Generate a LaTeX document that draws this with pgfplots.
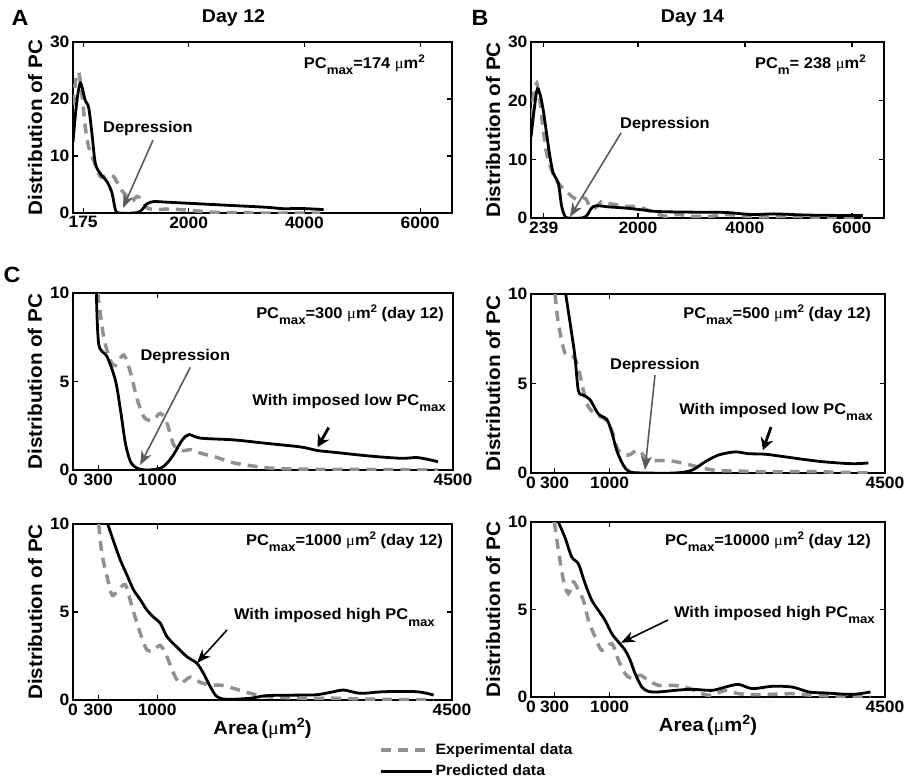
\documentclass[border=0pt]{standalone}
\usepackage{fontspec}
\setmainfont{Liberation Sans}[FakeStretch=1.06]
\newfontfamily\mufont{Liberation Serif}[FakeStretch=1.06]
\usepackage{pgfplots}
\pgfplotsset{compat=1.18}
\usetikzlibrary{arrows.meta}

\definecolor{expgray}{RGB}{145,145,145}
\definecolor{arrgray}{RGB}{90,90,90}
\newcommand{\fs}[1]{\fontsize{#1}{#1}\selectfont}
\newcommand{\um}{{\mufont\mdseries μ}m}
\newcommand{\sub}[1]{\raisebox{-6.5pt}{\fs{12.5}#1}}
\newcommand{\sq}{\raisebox{5.5pt}{\fs{11}2}}
\newcommand{\sqL}{\raisebox{7pt}{\fs{13.5}2}}

\pgfplotsset{
  panel/.style={
    scale only axis, clip mode=individual,
    axis line style={line width=1.5pt},
    every tick/.style={black, line width=1.2pt},
    major tick length=5pt, tick align=inside, tick pos=both,
    minor tick num=0,
    /pgf/number format/assume math mode=true,
    ticklabel style={font=\fs{16.5}\bfseries},
    ylabel={Distribution of PC},
    every axis y label/.style={at={(axis description cs:-0.1,0.5)}, rotate=90, anchor=center, font=\fs{19.5}\bfseries},
    every axis x label/.style={at={(axis description cs:0.5,0)}, anchor=center, yshift=-28pt, font=\fs{19}\bfseries},
    legend image code/.code={\draw[#1] (0pt,0pt) -- (51pt,0pt);},
  },
  exp/.style={expgray, line width=3.5pt, dash pattern=on 10pt off 7pt, smooth},
  pred/.style={black, line width=2.8pt, smooth},
}
\tikzset{
  note/.style={font=\fs{15.5}\bfseries, inner sep=0pt},
  garrow/.style={draw=arrgray, line width=1.6pt, -{Stealth[length=14pt,width=11pt]}},
  barrow/.style={draw=black, line width=2.8pt, -{Stealth[length=12pt,width=13pt]}},
  harrow/.style={draw=black, line width=1.6pt, -{Stealth[length=14pt,width=11pt]}},
}

\begin{document}
\begin{tikzpicture}
\useasboundingbox (0pt,0pt) rectangle (918pt,-779pt);

% ---------- A: day 12
\begin{axis}[panel, at={(73pt,-213pt)}, anchor=south west, width=379pt, height=171pt,
  xmin=0, xmax=6550, ymin=0, ymax=30,
  xtick={175,2000,4000,6000}, xticklabels={175,2000,4000,6000},
  ytick={0,10,20,30}]
\addplot[exp] coordinates {
(0,19) (50,23.5) (100,24.6) (155,20.8) (213,15) (271,11.6) (357,9.2) (472,6.4)
(588,6.6) (703,6.4) (818,4.3) (933,2.9) (1020,2.0) (1106,2.9) (1192,2.3) (1279,0.9)
(1452,0.6) (1625,0.7) (1855,0.6) (2085,0.4) (2489,0.1) (3065,0) (4275,0)};
\addplot[pred] coordinates {
(0,12.5) (60,19) (127,22.8) (213,19.7) (271,18.5) (328,13.9) (386,8.7) (472,6.9)
(588,5.5) (674,3.5) (732,0.6) (789,0) (1048,0) (1164,0.3) (1279,1.6) (1394,2.0)
(1625,1.9) (2201,1.6) (2777,1.3) (3353,1.0) (3641,0.75) (3929,0.8) (4332,0.6)};
\node[note, anchor=east] at (axis cs:6083,26) {PC\sub{max}=174 \um\sq};
\node[note] at (axis cs:1296,14.9) {Depression};
\draw[garrow] (axis cs:1383,12.8) -- (axis cs:864,0.9);
\node[font=\fs{18.5}\bfseries, xshift=-29pt, yshift=24pt] at (axis description cs:0.5,1) {Day 12};
\node[font=\fs{22}\bfseries, xshift=-53pt, yshift=24pt] at (axis description cs:0,1) {A};
\end{axis}

% ---------- B: day 14
\begin{axis}[panel, at={(531pt,-218pt)}, anchor=south west, width=353pt, height=176pt,
  xmin=0, xmax=6600, ymin=0, ymax=30,
  xtick={239,2000,4000,6000}, xticklabels={239,2000,4000,6000},
  ytick={0,10,20,30},
  every axis y label/.append style={at={(axis description cs:-0.107,0.5)}}]
\addplot[exp] coordinates {
(0,17) (50,21) (106,23) (168,19.9) (230,14.9) (293,11.0) (386,8.1) (511,5.9)
(635,4.8) (760,3.7) (884,3.1) (1009,3.4) (1102,2.0) (1196,1.7) (1320,2.8) (1444,2.5)
(1756,2.0) (2005,1.9) (2254,1.1) (2503,0.3) (2752,0.6) (3001,0.3) (3375,0.3)
(3624,0.6) (4247,0.2) (4870,0.3) (5492,0.1) (6207,0.1)};
\addplot[pred] coordinates {
(0,13.8) (106,21.6) (168,21.1) (230,18.3) (293,14.3) (355,10.4) (417,7.6) (511,5.9)
(573,2.0) (635,0.3) (697,0) (946,0) (1040,0.4) (1133,1.7) (1227,2.1) (1444,1.9)
(1756,1.7) (2067,1.4) (2378,1.1) (3001,1.0) (3624,0.95) (4122,0.6) (4557,0.7)
(5180,0.5) (6207,0.4)};
\node[note, anchor=east] at (axis cs:6263,26.1) {PC\sub{m}= 238 \um\sq};
\node[note] at (axis cs:2505,16) {Depression};
\draw[garrow] (axis cs:1683,14.5) -- (axis cs:729,0.2);
\node[font=\fs{18.5}\bfseries, xshift=-15pt, yshift=24pt] at (axis description cs:0.5,1) {Day 14};
\node[font=\fs{22}\bfseries, xshift=-51pt, yshift=24pt] at (axis description cs:0,1) {B};
\end{axis}

% ---------- C1: PCmax = 300
\begin{axis}[panel, at={(73pt,-470pt)}, anchor=south west, width=380pt, height=177pt,
  xmin=0, xmax=4500, ymin=0, ymax=10,
  xtick={0,300,1000,4500}, xticklabels={0,300,1000,4500},
  ytick={0,5,10}]
\addplot[exp] coordinates {
(293,10) (364,7.5) (443,6.2) (503,5.9) (601,6.5) (681,5.5) (760,4.0) (839,3.0)
(938,2.8) (1037,3.2) (1116,2.6) (1195,1.4) (1294,1.1) (1393,1.15) (1512,0.95)
(1710,0.7) (1907,0.4) (2303,0.12) (2699,0.05) (3490,0.03) (4321,0)};
\addplot[pred] coordinates {
(277,10) (305,7.1) (404,6.4) (503,5.05) (562,3.4) (621,1.5) (681,0.47) (760,0.1)
(879,0) (1037,0.1) (1116,0.4) (1195,0.9) (1294,1.7) (1373,2.0) (1512,1.8) (1907,1.7)
(2303,1.5) (2699,1.3) (2897,1.1) (3095,1.0) (3490,0.8) (3886,0.66) (4084,0.7) (4321,0.47)};
\node[note, anchor=east] at (axis cs:4393,8.76) {PC\sub{max}=300 \um\sq{} (day 12)};
\node[note] at (axis cs:1330,6.4) {Depression};
\draw[garrow] (axis cs:1389,5.8) -- (axis cs:795,0.28);
\node[note, anchor=east] at (axis cs:4417,3.8) {With imposed low PC\sub{max}};
\draw[barrow] (axis cs:3028,2.4) -- (axis cs:2897,1.3);
\node[font=\fs{22}\bfseries, xshift=-61pt, yshift=18pt] at (axis description cs:0,1) {C};
\end{axis}

% ---------- C2: PCmax = 500
\begin{axis}[panel, at={(531pt,-473pt)}, anchor=south west, width=354pt, height=179pt,
  xmin=0, xmax=4500, ymin=0, ymax=10,
  xtick={0,300,1000,4500}, xticklabels={0,300,1000,4500},
  ytick={0,5,10},
  every axis y label/.append style={at={(axis description cs:-0.107,0.5)}}]
\addplot[exp] coordinates {
(305,10) (347,8.4) (432,6.7) (538,6.5) (602,5.85) (708,3.9) (814,3.3) (941,3.0)
(1025,2.4) (1110,1.27) (1237,1.0) (1364,1.27) (1492,0.7) (1619,0.7) (1788,0.67)
(1958,0.52) (2127,0.34) (2339,0.15) (2678,0.1) (3102,0.06) (3525,0.08) (4288,0)};
\addplot[pred] coordinates {
(441,10) (517,7.8) (559,6.5) (602,4.6) (665,4.35) (750,4.1) (856,3.3) (962,3.0)
(1025,2.3) (1089,1.27) (1174,0.43) (1258,0.06) (1449,0) (1831,0) (2042,0.15)
(2212,0.62) (2381,1.0) (2593,1.18) (2763,1.08) (2975,1.05) (3186,0.93) (3483,0.75)
(3737,0.62) (4076,0.52) (4288,0.56)};
\node[note, anchor=east] at (axis cs:4322,8.83) {PC\sub{max}=500 \um\sq{} (day 12)};
\node[note] at (axis cs:1576,5.98) {Depression};
\draw[garrow] (axis cs:1576,5.47) -- (axis cs:1449,0.17);
\node[note, anchor=east] at (axis cs:4347,3.4) {With imposed low PC\sub{max}};
\draw[barrow] (axis cs:3051,2.57) -- (axis cs:2949,1.28);
\end{axis}

% ---------- C3: PCmax = 1000
\begin{axis}[panel, at={(73pt,-700pt)}, anchor=south west, width=379pt, height=176pt,
  xmin=0, xmax=4500, ymin=0, ymax=10,
  xtick={0,300,1000,4500}, xticklabels={0,300,1000,4500},
  ytick={0,5,10},
  xlabel={Area\,(\um\sqL)},
  legend style={draw=none, fill=none, font=\fs{15}\bfseries,
    at={(axis description cs:0.807,-0.344)}, anchor=west, inner sep=0pt,
    row sep=5pt, legend cell align=left}]
\addplot[exp] coordinates {
(305,10) (344,8.3) (404,7.0) (463,5.97) (522,6.15) (621,6.55) (700,5.3) (799,3.79)
(879,2.84) (958,2.84) (1037,3.1) (1116,2.46) (1195,1.5) (1274,0.95) (1393,1.3)
(1512,1.0) (1630,0.85) (1749,0.85) (1907,0.66) (2105,0.38) (2303,0.19) (2699,0.1)
(3095,0.1) (3490,0.05) (4282,0)};
\addlegendentry{Experimental data}
\addplot[pred] coordinates {
(412,10) (483,9.0) (562,7.95) (641,7.1) (720,6.25) (799,5.7) (879,5.1) (958,4.7)
(1037,4.36) (1116,3.6) (1235,3.0) (1353,2.46) (1472,2.08) (1551,1.5) (1630,0.76)
(1709,0.19) (1828,0.04) (2105,0.1) (2303,0.25) (2699,0.28) (2897,0.3) (3095,0.47)
(3213,0.57) (3411,0.38) (3688,0.47) (4084,0.47) (4282,0.28)};
\addlegendentry{Predicted data}
\node[note, anchor=east] at (axis cs:4393,8.98) {PC\sub{max}=1000 \um\sq{} (day 12)};
\node[note, anchor=east] at (axis cs:4298,4.7) {With imposed high PC\sub{max}};
\draw[harrow] (axis cs:1829,3.98) -- (axis cs:1472,2.1);
\end{axis}

% ---------- C4: PCmax = 10000
\begin{axis}[panel, at={(531pt,-697pt)}, anchor=south west, width=354pt, height=175pt,
  xmin=0, xmax=4500, ymin=0, ymax=10,
  xtick={0,300,1000,4500}, xticklabels={0,300,1000,4500},
  ytick={0,5,10},
  xlabel={Area\,(\um\sqL)},
  every axis y label/.append style={at={(axis description cs:-0.107,0.5)}}]
\addplot[exp] coordinates {
(297,10) (348,8.4) (412,6.67) (475,5.9) (539,6.57) (603,6.1) (666,5.52) (730,4.38)
(815,3.43) (900,2.67) (1027,3.05) (1112,2.1) (1197,1.33) (1282,1.05) (1388,1.24)
(1494,0.95) (1621,0.67) (1791,0.67) (1961,0.57) (2173,0.19) (2301,0.1) (2470,0.38)
(2640,0.19) (2894,0.13) (3319,0.19) (3574,0.1) (3956,0.04) (4316,0)};
\addplot[pred] coordinates {
(348,10) (433,9.1) (518,8.0) (603,7.6) (688,6.48) (773,5.52) (857,4.95) (942,4.38)
(1027,3.62) (1112,3.14) (1197,2.67) (1261,2.1) (1324,1.33) (1409,0.57) (1494,0.32)
(1621,0.29) (1834,0.38) (2046,0.44) (2301,0.38) (2470,0.57) (2640,0.72) (2810,0.48)
(3064,0.61) (3319,0.57) (3531,0.29) (3744,0.23) (4083,0.15) (4316,0.29)};
\node[note, anchor=east] at (axis cs:4322,8.86) {PC\sub{max}=10000 \um\sq{} (day 12)};
\node[note, anchor=east] at (axis cs:4373,4.7) {With imposed high PC\sub{max}};
\draw[harrow] (axis cs:1742,4.4) -- (axis cs:1144,3.1);
\end{axis}

\end{tikzpicture}
\end{document}
